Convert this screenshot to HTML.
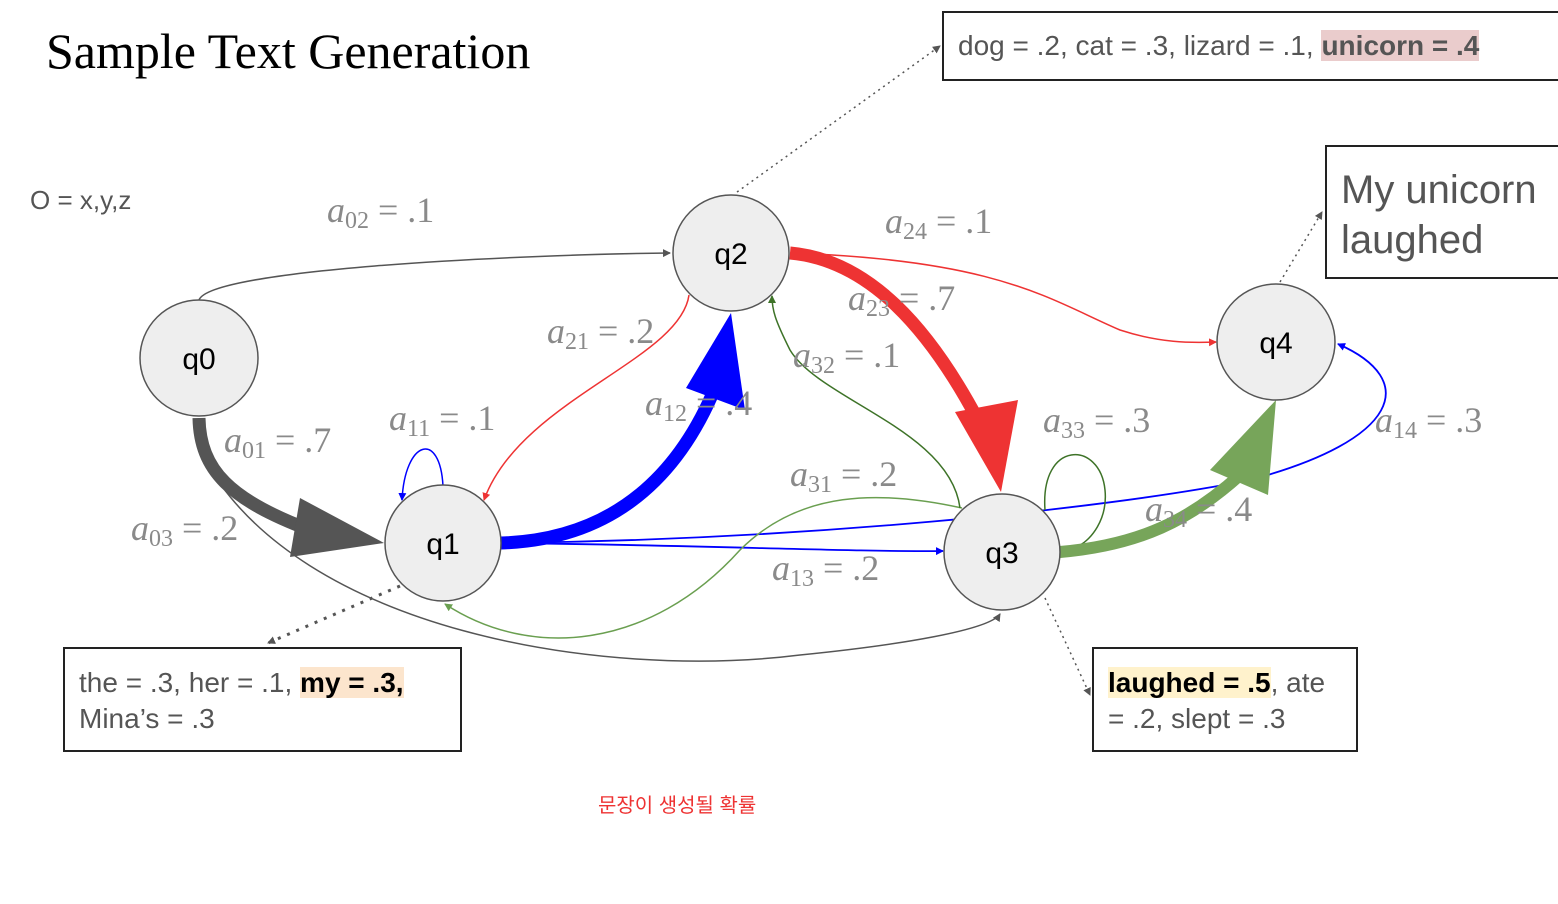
<!DOCTYPE html>
<html><head><meta charset="utf-8"><style>
body{margin:0;width:1558px;height:904px;background:#fff;overflow:hidden;position:relative;font-family:"Liberation Sans",sans-serif}
.t{position:absolute;white-space:nowrap}
.box{position:absolute;border:2px solid #222;box-sizing:border-box;color:#555;background:#fff}
.m{font-family:"Liberation Serif",serif;fill:#8a8a8a;font-size:36px}
.m tspan.i{font-style:italic}
</style></head><body>
<svg width="1558" height="904" style="position:absolute;left:0;top:0">
<defs>
<marker id="ag" markerWidth="8" markerHeight="8" refX="7" refY="4" orient="auto" markerUnits="userSpaceOnUse"><path d="M0,0 L8,4 L0,8z" fill="#555"/></marker>
<marker id="ab" markerWidth="8" markerHeight="8" refX="7" refY="4" orient="auto" markerUnits="userSpaceOnUse"><path d="M0,0 L8,4 L0,8z" fill="#00f"/></marker>
<marker id="ar" markerWidth="8" markerHeight="8" refX="7" refY="4" orient="auto" markerUnits="userSpaceOnUse"><path d="M0,0 L8,4 L0,8z" fill="#e33"/></marker>
<marker id="agr" markerWidth="8" markerHeight="8" refX="7" refY="4" orient="auto" markerUnits="userSpaceOnUse"><path d="M0,0 L8,4 L0,8z" fill="#6a9f50"/></marker>
<marker id="adg" markerWidth="8" markerHeight="8" refX="7" refY="4" orient="auto" markerUnits="userSpaceOnUse"><path d="M0,0 L8,4 L0,8z" fill="#3e7328"/></marker>
</defs>
<g fill="none">
<!-- dotted -->
<path d="M737,192 L940,46" stroke="#555" stroke-width="1.5" stroke-dasharray="2,4" marker-end="url(#ag)"/>
<path d="M400,586 L268,643" stroke="#555" stroke-width="3" stroke-dasharray="3,7" marker-end="url(#ag)"/>
<path d="M1045,598 L1090,695" stroke="#555" stroke-width="1.5" stroke-dasharray="2,4" marker-end="url(#ag)"/>
<path d="M1280,282 L1322,212" stroke="#555" stroke-width="1.5" stroke-dasharray="2,4" marker-end="url(#ag)"/>
<!-- q0 edges -->
<path d="M199,300 C210,270 500,255 670,253" stroke="#555" stroke-width="1.5" marker-end="url(#ag)"/>
<path d="M205,460 C300,630 600,680 800,655 C900,645 990,630 1000,614" stroke="#555" stroke-width="1.5" marker-end="url(#ag)"/>
<path d="M199,418 C200,470 230,500 310,530" stroke="#555" stroke-width="13"/>
<path d="M300,498 L384,543 L290,557z" fill="#555"/>
<!-- q1 edges -->
<path d="M443,486 C440,430 405,440 402,500" stroke="#00f" stroke-width="1.5" marker-end="url(#ab)"/>
<path d="M689,295 C680,360 520,400 484,500" stroke="#e33" stroke-width="1.5" marker-end="url(#ar)"/>
<path d="M501,543 C600,540 670,490 712,395" stroke="#00f" stroke-width="13"/>
<path d="M686,388 L731,313 L745,410z" fill="#00f"/>
<path d="M501,543 C700,545 850,552 943,551" stroke="#00f" stroke-width="1.8" marker-end="url(#ab)"/>
<path d="M501,543 C800,540 1100,510 1250,480 C1400,440 1420,380 1338,344" stroke="#00f" stroke-width="1.8" marker-end="url(#ab)"/>
<!-- q3 edges -->
<path d="M962,508 C880,490 800,490 740,550 C650,650 530,660 445,604" stroke="#6a9f50" stroke-width="1.5" marker-end="url(#agr)"/>
<path d="M960,508 C950,430 820,400 790,350 C775,320 772,310 772,296" stroke="#3e7328" stroke-width="1.5" marker-end="url(#adg)"/>
<path d="M1045,510 C1040,440 1100,440 1105,490 C1108,520 1090,540 1080,545" stroke="#3e7328" stroke-width="1.5"/>
<path d="M1060,552 C1140,545 1190,520 1240,475" stroke="#77a55a" stroke-width="12"/>
<path d="M1210,470 L1276,400 L1268,495z" fill="#77a55a"/>
<!-- q2 edges -->
<path d="M790,253 C1000,260 1050,300 1120,330 C1160,343 1190,343 1216,342" stroke="#e33" stroke-width="1.5" marker-end="url(#ar)"/>
<path d="M790,253 C870,260 930,330 978,420" stroke="#e33" stroke-width="13"/>
<path d="M955,412 L1018,400 L1001,492z" fill="#e33"/>
</g>
<!-- nodes -->
<g fill="#eee" stroke="#555" stroke-width="1.5">
<ellipse cx="199" cy="358" rx="59" ry="58"/>
<ellipse cx="443" cy="543" rx="58" ry="58"/>
<ellipse cx="731" cy="253" rx="58" ry="58"/>
<ellipse cx="1002" cy="552" rx="58" ry="58"/>
<ellipse cx="1276" cy="342" rx="59" ry="58"/>
</g>
<g font-family="Liberation Sans,sans-serif" font-size="30" fill="#000" text-anchor="middle">
<text x="199" y="369">q0</text><text x="443" y="554">q1</text><text x="731" y="264">q2</text><text x="1002" y="563">q3</text><text x="1276" y="353">q4</text>
</g>
<!-- labels -->
<g class="m">
<text x="327" y="222"><tspan class="i">a</tspan><tspan font-size="24" dy="6">02</tspan><tspan dy="-6"> = .1</tspan></text>
<text x="224" y="452"><tspan class="i">a</tspan><tspan font-size="24" dy="6">01</tspan><tspan dy="-6"> = .7</tspan></text>
<text x="131" y="540"><tspan class="i">a</tspan><tspan font-size="24" dy="6">03</tspan><tspan dy="-6"> = .2</tspan></text>
<text x="389" y="430"><tspan class="i">a</tspan><tspan font-size="24" dy="6">11</tspan><tspan dy="-6"> = .1</tspan></text>
<text x="547" y="343"><tspan class="i">a</tspan><tspan font-size="24" dy="6">21</tspan><tspan dy="-6"> = .2</tspan></text>
<text x="645" y="415"><tspan class="i">a</tspan><tspan font-size="24" dy="6">12</tspan><tspan dy="-6"> = .4</tspan></text>
<text x="885" y="233"><tspan class="i">a</tspan><tspan font-size="24" dy="6">24</tspan><tspan dy="-6"> = .1</tspan></text>
<text x="848" y="310"><tspan class="i">a</tspan><tspan font-size="24" dy="6">23</tspan><tspan dy="-6"> = .7</tspan></text>
<text x="793" y="367"><tspan class="i">a</tspan><tspan font-size="24" dy="6">32</tspan><tspan dy="-6"> = .1</tspan></text>
<text x="790" y="486"><tspan class="i">a</tspan><tspan font-size="24" dy="6">31</tspan><tspan dy="-6"> = .2</tspan></text>
<text x="772" y="580"><tspan class="i">a</tspan><tspan font-size="24" dy="6">13</tspan><tspan dy="-6"> = .2</tspan></text>
<text x="1043" y="432"><tspan class="i">a</tspan><tspan font-size="24" dy="6">33</tspan><tspan dy="-6"> = .3</tspan></text>
<text x="1145" y="521"><tspan class="i">a</tspan><tspan font-size="24" dy="6">34</tspan><tspan dy="-6"> = .4</tspan></text>
<text x="1375" y="432"><tspan class="i">a</tspan><tspan font-size="24" dy="6">14</tspan><tspan dy="-6"> = .3</tspan></text>
</g>
</svg>
<div class="t" style="left:46px;top:22px;font-family:'Liberation Serif',serif;font-size:50px;color:#000">Sample Text Generation</div>
<div class="t" style="left:30px;top:185px;font-size:26px;color:#555">O = x,y,z</div>
<div class="box" style="left:942px;top:11px;width:620px;height:70px;padding:17px 0 0 14px;font-size:28px">dog = .2, cat = .3, lizard = .1, <b style="background:#eacccc">unicorn = .4</b></div>
<div class="box" style="left:1325px;top:145px;width:240px;height:134px;padding:18px 0 0 14px;font-size:40px;line-height:50px">My unicorn<br>laughed</div>
<div class="box" style="left:63px;top:647px;width:399px;height:105px;padding:16px 0 0 14px;font-size:28px;line-height:36px">the = .3, her = .1, <b style="background:#fce5cd;color:#000">my = .3,</b><br>Mina’s = .3</div>
<div class="box" style="left:1092px;top:647px;width:266px;height:105px;padding:16px 0 0 14px;font-size:28px;line-height:36px"><b style="background:#fff2cc;color:#000">laughed = .5</b>, ate<br>= .2, slept = .3</div>
<div class="t" style="left:598px;top:789px;font-size:20px;color:#e33;font-family:'Liberation Sans','Noto Sans CJK KR',sans-serif">문장이 생성될 확률</div>
</body></html>
